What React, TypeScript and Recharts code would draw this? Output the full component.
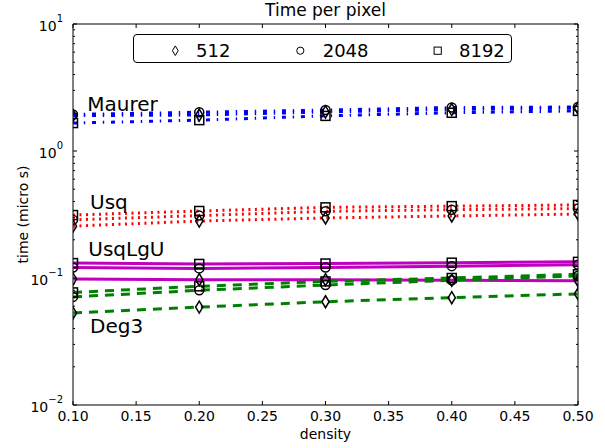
import React from "react";
import {
  ComposedChart,
  Line,
  XAxis,
  YAxis,
  Legend,
  ReferenceArea,
  ReferenceDot,
} from "recharts";

const densities = [0.1, 0.2, 0.3, 0.4, 0.5];
const sizeLabels = ["512", "2048", "8192"];

// time per pixel (micro s)
const maurer512 = [1.9, 1.92, 2.03, 2.12, 2.18];
const maurer2048 = [1.94, 2.02, 2.1, 2.2, 2.22];
const maurer8192 = [1.66, 1.75, 1.89, 2.0, 2.07];
const usq512 = [0.256, 0.281, 0.297, 0.308, 0.319];
const usq2048 = [0.287, 0.31, 0.335, 0.345, 0.352];
const usq8192 = [0.313, 0.337, 0.36, 0.368, 0.376];
const usqlgu512 = [0.098, 0.097, 0.097, 0.096, 0.095];
const usqlgu2048 = [0.121, 0.119, 0.121, 0.124, 0.127];
const usqlgu8192 = [0.131, 0.129, 0.13, 0.132, 0.134];
const deg3_512 = [0.053, 0.059, 0.065, 0.07, 0.075];
const deg3_2048 = [0.071, 0.08, 0.088, 0.096, 0.104];
const deg3_8192 = [0.077, 0.086, 0.094, 0.1, 0.107];

const xTicks = [0.1, 0.15, 0.2, 0.25, 0.3, 0.35, 0.4, 0.45, 0.5];
const yTicks = [
  0.01, 0.02, 0.03, 0.04, 0.05, 0.06, 0.07, 0.08, 0.09,
  0.1, 0.2, 0.3, 0.4, 0.5, 0.6, 0.7, 0.8, 0.9,
  1, 2, 3, 4, 5, 6, 7, 8, 9, 10,
];

// in-plot algorithm names, anchored in data space
const algoNames = ["Maurer", "Usq", "UsqLgU", "Deg3"];
const algoLabelX = [0.1113, 0.1135, 0.1121, 0.1135];
const algoLabelY = [2.076, 0.3475, 0.1498, 0.0367];

const W = 605;
const H = 448;
const MARGIN = { top: 24, right: 27, bottom: 0, left: 0 };
const Y_WIDTH = 73;
const X_HEIGHT = 43;
const PLOT_LEFT = MARGIN.left + Y_WIDTH;
const PLOT_RIGHT = W - MARGIN.right;
const PLOT_TOP = MARGIN.top;
const PLOT_BOTTOM = H - MARGIN.bottom - X_HEIGHT;

type Marker = "diamond" | "circle" | "square";
const markers: Marker[] = ["diamond", "circle", "square"];

function markerShape(m: Marker, cx: number, cy: number, s: number, sw: number, key?: string) {
  if (m === "circle") {
    return <circle key={key} cx={cx} cy={cy} r={s * 0.45} fill="none" stroke="#000" strokeWidth={sw} />;
  }
  if (m === "square") {
    const h = s * 0.45;
    return <rect key={key} x={cx - h} y={cy - h} width={2 * h} height={2 * h} fill="none" stroke="#000" strokeWidth={sw} />;
  }
  const hh = s * 0.6;
  const hw = s * 0.36;
  return (
    <path
      key={key}
      d={`M${cx},${cy - hh}L${cx + hw},${cy}L${cx},${cy + hh}L${cx - hw},${cy}Z`}
      fill="none"
      stroke="#000"
      strokeWidth={sw}
    />
  );
}

const groups = [
  { name: "maurer", values: [maurer512, maurer2048, maurer8192], color: "#0000ff", dash: "4 6.8 1.4 6.8" },
  { name: "usq", values: [usq512, usq2048, usq8192], color: "#ff0000", dash: "2 4.5" },
  { name: "usqlgu", values: [usqlgu512, usqlgu2048, usqlgu8192], color: "#bf00bf", dash: undefined },
  { name: "deg3", values: [deg3_512, deg3_2048, deg3_8192], color: "#008000", dash: "9 7" },
];

const series = groups.flatMap((g) =>
  g.values.map((vals, i) => ({
    key: `${g.name}${sizeLabels[i]}`,
    vals,
    color: g.color,
    dash: g.dash,
    marker: markers[i],
  }))
);

const rows = densities.map((d, i) => {
  const row: Record<string, number> = { density: d };
  series.forEach((s) => {
    row[s.key] = s.vals[i];
  });
  return row;
});

function XTick(props: any) {
  const { x, payload } = props;
  return (
    <g>
      <line x1={x} x2={x} y1={PLOT_BOTTOM} y2={PLOT_BOTTOM - 4} stroke="#000" />
      <line x1={x} x2={x} y1={PLOT_TOP} y2={PLOT_TOP + 4} stroke="#000" />
      <text x={x} y={PLOT_BOTTOM + 16} textAnchor="middle" fontSize={14} fill="#000">
        {Number(payload.value).toFixed(2)}
      </text>
    </g>
  );
}

function YTick(props: any) {
  const { y, payload } = props;
  const v = Number(payload.value);
  const lg = Math.log10(v);
  const e = Math.round(lg);
  const major = Math.abs(lg - e) < 1e-6;
  const len = major ? 4 : 2;
  return (
    <g>
      <line x1={PLOT_LEFT} x2={PLOT_LEFT + len} y1={y} y2={y} stroke="#000" />
      <line x1={PLOT_RIGHT - len} x2={PLOT_RIGHT} y1={y} y2={y} stroke="#000" />
      {major && (
        <text x={PLOT_LEFT - 10} y={y + 7} textAnchor="end" fontSize={14} fill="#000">
          <tspan>10</tspan>
          <tspan dy={-9} fontSize={10}>
            {e < 0 ? `\u2212${-e}` : `${e}`}
          </tspan>
        </text>
      )}
    </g>
  );
}

function LegendBox() {
  const markerX = [41.3, 166.3, 303.7];
  const textX = [62, 188.7, 325];
  return (
    <div
      style={{
        width: 379,
        height: 29,
        border: "1px solid #000",
        borderRadius: 4,
        boxSizing: "border-box",
        background: "#fff",
      }}
    >
      <svg width={377} height={27} style={{ display: "block" }}>
        {sizeLabels.map((s, i) => (
          <g key={s}>
            {markerShape(markers[i], markerX[i], 15.7, 8, 1)}
            <text x={textX[i]} y={21.7} fontSize={18} fill="#000">
              {s}
            </text>
          </g>
        ))}
      </svg>
    </div>
  );
}

export default function App() {
  return (
    <div
      style={{
        position: "absolute",
        left: 0,
        top: 0,
        width: W,
        height: H,
        background: "#fff",
        fontFamily: "'DejaVu Sans', sans-serif",
      }}
    >
      <svg
        width={W}
        height={22}
        style={{ position: "absolute", left: 0, top: 0, pointerEvents: "none" }}
      >
        <defs>
          {/* markers are cut at the axes frame, like the original */}
          <clipPath id="plot-clip" clipPathUnits="userSpaceOnUse">
            <rect x={PLOT_LEFT} y={PLOT_TOP} width={PLOT_RIGHT - PLOT_LEFT} height={PLOT_BOTTOM - PLOT_TOP} />
          </clipPath>
        </defs>
        <text x={(PLOT_LEFT + PLOT_RIGHT) / 2} y={16} textAnchor="middle" fontSize={17} fill="#000">
          Time per pixel
        </text>
      </svg>
      <ComposedChart width={W} height={H} data={rows} margin={MARGIN}>
        <XAxis
          dataKey="density"
          type="number"
          domain={[0.1, 0.5]}
          allowDataOverflow
          ticks={xTicks}
          interval={0}
          axisLine={false}
          tickLine={false}
          tick={<XTick />}
          height={X_HEIGHT}
          label={{ value: "density", position: "insideBottom", offset: 9, fontSize: 14, fill: "#000" }}
        />
        <YAxis
          type="number"
          scale="log"
          domain={[0.01, 10]}
          allowDataOverflow
          ticks={yTicks}
          interval={0}
          axisLine={false}
          tickLine={false}
          tick={<YTick />}
          width={Y_WIDTH}
          label={(p: any) => {
            const vb = p.viewBox;
            const cx = vb.x + 28;
            const cy = vb.y + vb.height / 2;
            return (
              <text
                x={cx}
                y={cy}
                transform={`rotate(-90 ${cx} ${cy})`}
                textAnchor="middle"
                fontSize={14}
                fill="#000"
              >
                time (micro s)
              </text>
            );
          }}
        />
        <ReferenceArea x1={0.1} x2={0.5} y1={0.01} y2={10} fill="none" stroke="#000" strokeWidth={1} />
        {series.map((s) => (
          <Line
            key={s.key}
            dataKey={s.key}
            type="linear"
            stroke={s.color}
            strokeWidth={3}
            strokeDasharray={s.dash}
            isAnimationActive={false}
            activeDot={false}
            dot={(p: any) => (
              <g key={`${s.key}-${p.index}`} clipPath="url(#plot-clip)">
                {markerShape(s.marker, p.cx, p.cy, 10, 1.5)}
              </g>
            )}
          />
        ))}
        {algoNames.map((n, i) => (
          <ReferenceDot
            key={n}
            x={algoLabelX[i]}
            y={algoLabelY[i]}
            r={0}
            fill="none"
            stroke="none"
            label={(p: any) => (
              <text x={p.viewBox.x} y={p.viewBox.y} fontSize={20} fill="#000">
                {n}
              </text>
            )}
          />
        ))}
        <Legend
          verticalAlign="middle"
          layout="horizontal"
          align="center"
          wrapperStyle={{ position: "absolute", left: 133, top: 34, width: 379, height: 29, margin: 0, padding: 0 }}
          content={() => <LegendBox />}
        />
      </ComposedChart>
    </div>
  );
}
